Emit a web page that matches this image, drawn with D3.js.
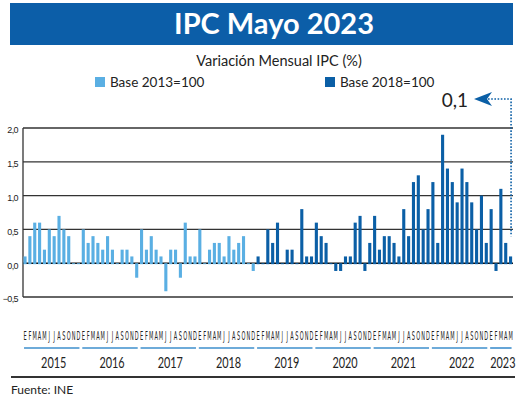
<!DOCTYPE html>
<html>
<head>
<meta charset="utf-8">
<script src="https://cdn.jsdelivr.net/npm/d3@7"></script>
<style>
	body { margin: 0; background: #fff; }
	svg { display: block; font-family: Lato, "Open Sans", sans-serif; }
</style>
</head>
<body>
<svg id="ipc-plot" width="520" height="399" viewBox="0 0 520 399"></svg>
<script>
// data (monthly IPC variation, %)
const month_letters = ["E", "F", "M", "A", "M", "J", "J", "A", "S", "O", "N", "D"];
const years = ["2015", "2016", "2017", "2018", "2019", "2020", "2021", "2022", "2023"];
const y_ticks = [2.0, 1.5, 1.0, 0.5, 0.0, -0.5];

// Ene 2015 - Dic 2018
const base2013 = [
	0.1, 0.4, 0.6, 0.6, 0.2, 0.5, 0.4, 0.7, 0.5, 0.4, 0.0, 0.0,
	0.5, 0.3, 0.4, 0.3, 0.2, 0.4, 0.2, 0.0, 0.2, 0.2, 0.1, -0.2,
	0.5, 0.2, 0.4, 0.2, 0.1, -0.4, 0.2, 0.2, -0.2, 0.6, 0.1, 0.1,
	0.5, 0.0, 0.2, 0.3, 0.3, 0.1, 0.4, 0.2, 0.3, 0.4, 0.0, -0.1
];
// Ene 2019 - May 2023
const base2018 = [
	0.1, 0.0, 0.5, 0.3, 0.6, 0.0, 0.2, 0.2, 0.0, 0.8, 0.1, 0.1,
	0.6, 0.4, 0.3, 0.0, -0.1, -0.1, 0.1, 0.1, 0.6, 0.7, -0.1, 0.3,
	0.7, 0.2, 0.4, 0.4, 0.3, 0.1, 0.8, 0.4, 1.2, 1.3, 0.5, 0.8,
	1.2, 0.3, 1.9, 1.4, 1.2, 0.9, 1.4, 1.2, 0.9, 0.5, 1.0, 0.3,
	0.8, -0.1, 1.1, 0.3, 0.1
];

const color_2013 = "#5aafe3";
const color_2018 = "#0b5fa6";

function drawChart(svg_element_id) {
	const svg = d3.select("#" + svg_element_id);

	const data = base2013.map((v, i) => ({ idx: i, value: v, serie: "b13" }))
		.concat(base2018.map((v, i) => ({ idx: base2013.length + i, value: v, serie: "b18" })));

	const es = d3.formatLocale({ decimal: ",", thousands: ".", grouping: [3], currency: ["$", ""] });
	const fmt = es.format(".1f");

	const x = d3.scaleBand()
		.domain(d3.range(data.length))
		.range([22.6, 513])
		.paddingInner(0.36)
		.paddingOuter(0.18);
	const bw = x.bandwidth();
	const cx = (i) => x(i) + bw / 2;

	const y = d3.scaleLinear()
		.domain([-0.5, 2.0])
		.range([297, 128]);

	// header
	svg.append("rect")
		.attr("x", 10).attr("y", 3)
		.attr("width", 503).attr("height", 42)
		.attr("fill", "#0c5ea8");

	svg.append("text")
		.attr("x", 274).attr("y", 34)
		.attr("text-anchor", "middle")
		.attr("fill", "#fff")
		.style("font-size", "29px")
		.style("font-weight", "bold")
		.text("IPC Mayo 2023");

	svg.append("text")
		.attr("x", 279).attr("y", 66)
		.attr("text-anchor", "middle")
		.attr("fill", "#222")
		.style("font-size", "14.5px")
		.text("Variación Mensual IPC (%)");

	// legend
	const legend = [
		{ label: "Base 2013=100", color: color_2013, x: 95 },
		{ label: "Base 2018=100", color: color_2018, x: 325 }
	];
	const lg = svg.append("g").selectAll("g")
		.data(legend)
		.enter().append("g")
		.attr("transform", d => "translate(" + d.x + ",77)");
	lg.append("rect")
		.attr("width", 10).attr("height", 10)
		.attr("fill", d => d.color);
	lg.append("text")
		.attr("x", 15).attr("y", 10)
		.attr("fill", "#222")
		.style("font-size", "13.5px")
		.text(d => d.label);

	// gridlines
	svg.append("g").selectAll("line")
		.data(y_ticks)
		.enter().append("line")
		.attr("x1", 23).attr("x2", 513)
		.attr("y1", d => y(d)).attr("y2", d => y(d))
		.attr("stroke", d => d === 0 ? "#111" : "#333")
		.attr("stroke-width", d => d === 0 ? 1.6 : 1.3);

	svg.append("line")
		.attr("x1", 23).attr("x2", 23)
		.attr("y1", y(2.0)).attr("y2", y(-0.5))
		.attr("stroke", "#333")
		.attr("stroke-width", 1.3);

	// y labels
	const y_axis = d3.axisLeft(y)
		.tickValues(y_ticks)
		.tickSize(0)
		.tickPadding(4)
		.tickFormat(fmt);
	const ya = svg.append("g")
		.attr("transform", "translate(22,2)")
		.call(y_axis);
	ya.select(".domain").remove();
	ya.selectAll("text")
		.attr("fill", "#222")
		.style("font-size", "9px")
		.style("letter-spacing", "-0.6px");

	// bars
	svg.append("g").selectAll(".bar")
		.data(data)
		.enter().append("rect")
		.classed("bar", true)
		.attr("x", d => x(d.idx))
		.attr("width", bw)
		.attr("y", d => Math.min(y(d.value), y(0)))
		.attr("height", d => Math.abs(y(d.value) - y(0)) + 1)
		.attr("fill", d => d.serie === "b13" ? color_2013 : color_2018);

	// month letters
	svg.append("g").selectAll("text")
		.data(data)
		.enter().append("text")
		.attr("transform", d => "translate(" + cx(d.idx) + ",340) scale(0.42,1)")
		.attr("text-anchor", "middle")
		.attr("fill", "#222")
		.style("font-family", "'DejaVu Sans', sans-serif")
		.style("font-size", "12px")
		.text(d => month_letters[d.idx % 12]);

	// year groups
	const year_groups = years.map((yr, k) => ({
		label: yr,
		first: k * 12,
		last: Math.min(k * 12 + 11, data.length - 1)
	}));
	const yg = svg.append("g").selectAll("g")
		.data(year_groups)
		.enter().append("g");
	yg.append("line")
		.attr("x1", d => cx(d.first) - 1).attr("x2", d => cx(d.last) + 1)
		.attr("y1", 348).attr("y2", 348)
		.attr("stroke", "#3e8fcd")
		.attr("stroke-width", 1.6);
	yg.append("text")
		.attr("transform", d => "translate(" + ((cx(d.first) + cx(d.last)) / 2 + 2) + ",368) scale(0.68,1)")
		.attr("text-anchor", "middle")
		.attr("fill", "#222")
		.style("font-size", "16px")
		.text(d => d.label);

	// annotation of last value
	const last = data[data.length - 1];
	const ax = cx(last.idx) + 0.5;
	svg.append("polyline")
		.attr("points", [[488, 99], [ax, 99], [ax, y(0.4)]].map(p => p.join(",")).join(" "))
		.attr("fill", "none")
		.attr("stroke", color_2018)
		.attr("stroke-width", 1.6)
		.attr("stroke-dasharray", "1.6,1.6");
	svg.append("path")
		.attr("d", "M474,99 L492,92 L487,99 L492,106 Z")
		.attr("fill", color_2018);
	svg.append("text")
		.attr("x", 468).attr("y", 107)
		.attr("text-anchor", "end")
		.attr("fill", "#222")
		.style("font-size", "19px")
		.text(fmt(last.value));

	// footer
	svg.append("line")
		.attr("x1", 11).attr("x2", 515)
		.attr("y1", 377).attr("y2", 377)
		.attr("stroke", "#333")
		.attr("stroke-width", 2);
	svg.append("text")
		.attr("x", 11).attr("y", 394)
		.attr("fill", "#222")
		.style("font-size", "12px")
		.text("Fuente: INE");
}

function whenDocumentLoaded(action) {
	if (document.readyState === "loading") {
		document.addEventListener("DOMContentLoaded", action);
	} else {
		action();
	}
}

whenDocumentLoaded(() => drawChart("ipc-plot"));
</script>
</body>
</html>
